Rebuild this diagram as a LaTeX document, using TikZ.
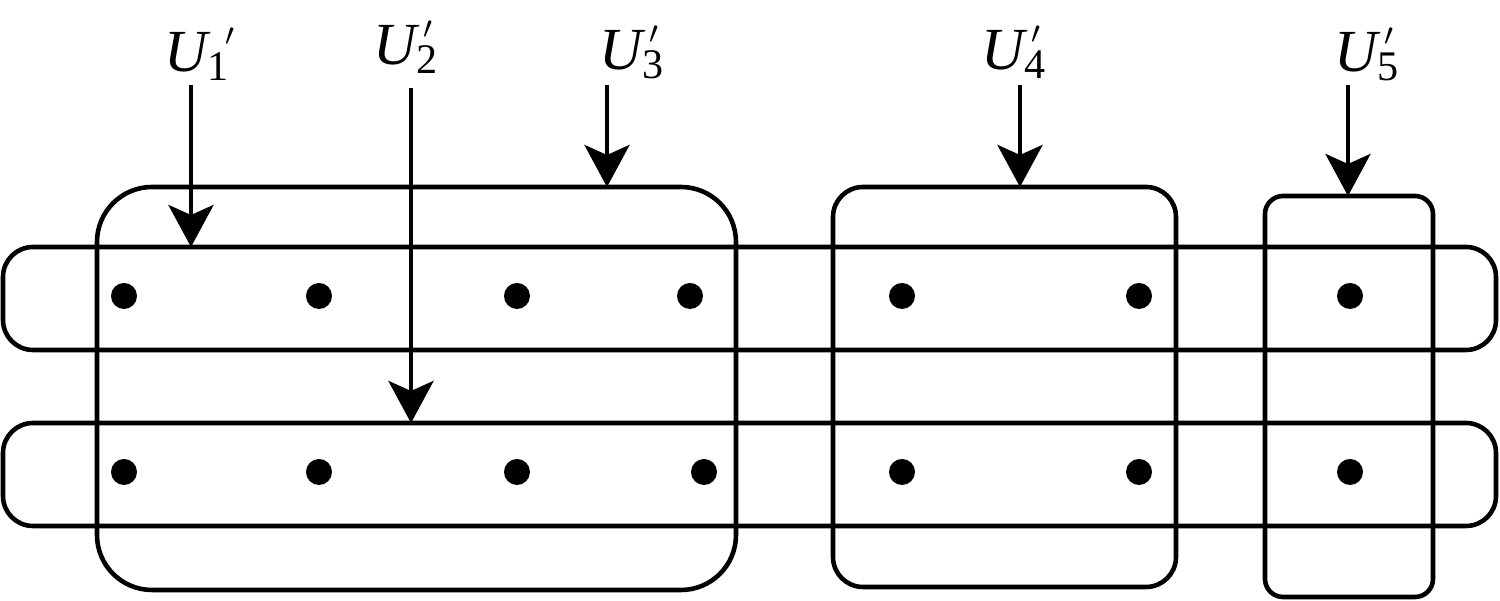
\documentclass[tikz,border=0pt]{standalone}
\usepackage{fontspec}
\setmainfont{Liberation Serif}
\newfontfamily\lblfont{Liberation Serif}
\usetikzlibrary{arrows.meta}
\newcommand{\ulab}[2]{\lblfont\itshape U\upshape\raisebox{-2.3pt}{\fontsize{12}{12}\selectfont #1}\kern#2\raisebox{7.5pt}{\fontsize{9}{9}\selectfont$\prime$}}

\begin{document}
\begin{tikzpicture}[line width=1.3pt,
    edge/.style={draw, rectangle, inner sep=0pt, outer sep=0pt},
    vert/.style={circle, fill, inner sep=0pt, minimum size=0.26cm},
    ulabel/.style={anchor=base west, inner sep=0pt, font=\lblfont\fontsize{17}{17}\selectfont},
    feed/.style={-{Stealth[length=0.42cm, width=0.45cm, inset=0.1cm]}}]
\useasboundingbox (0,0) rectangle (15,6.01);
% horizontal edges
\node[edge, rounded corners=0.3cm, minimum width=14.93cm, minimum height=1.03cm] (row1) at (7.495,3.025) {};
\node[edge, rounded corners=0.3cm, minimum width=14.93cm, minimum height=1.03cm] (row2) at (7.495,1.265) {};
% vertical edges
\node[edge, rounded corners=0.55cm, minimum width=6.39cm, minimum height=4.03cm] (box1) at (4.165,2.125) {};
\node[edge, rounded corners=0.3cm, minimum width=3.43cm, minimum height=4.0cm] (box2) at (10.045,2.14) {};
\node[edge, rounded corners=0.18cm, minimum width=1.68cm, minimum height=4.01cm] (box3) at (13.49,2.045) {};
% vertices
\foreach \x [count=\i] in {1.24,3.19,5.17,6.90,9.02,11.39,13.50}
    \node[vert] (p\i) at (\x,3.05) {};
\foreach \x [count=\i] in {1.24,3.19,5.17,7.04,9.02,11.39,13.50}
    \node[vert] (q\i) at (\x,1.29) {};
% labels
\node[ulabel] (u1) at (1.62,5.29) {\ulab{1}{-1pt}};
\node[ulabel] (u2) at (3.71,5.36) {\ulab{2}{-4pt}};
\node[ulabel] (u3) at (5.97,5.31) {\ulab{3}{-4pt}};
\node[ulabel] (u4) at (9.79,5.31) {\ulab{4}{-4pt}};
\node[ulabel] (u5) at (13.32,5.29) {\ulab{5}{-4pt}};
% arrows
\coordinate (s1) at (1.91,5.16);
\coordinate (s2) at (4.11,5.13);
\coordinate (s3) at (6.07,5.16);
\coordinate (s4) at (10.20,5.16);
\coordinate (s5) at (13.48,5.16);
\draw[feed] (s1) -- (s1 |- row1.north);
\draw[feed] (s2) -- (s2 |- row2.north);
\draw[feed] (s3) -- (s3 |- box1.north);
\draw[feed] (s4) -- (s4 |- box2.north);
\draw[feed] (s5) -- (s5 |- box3.north);
\end{tikzpicture}
\end{document}
